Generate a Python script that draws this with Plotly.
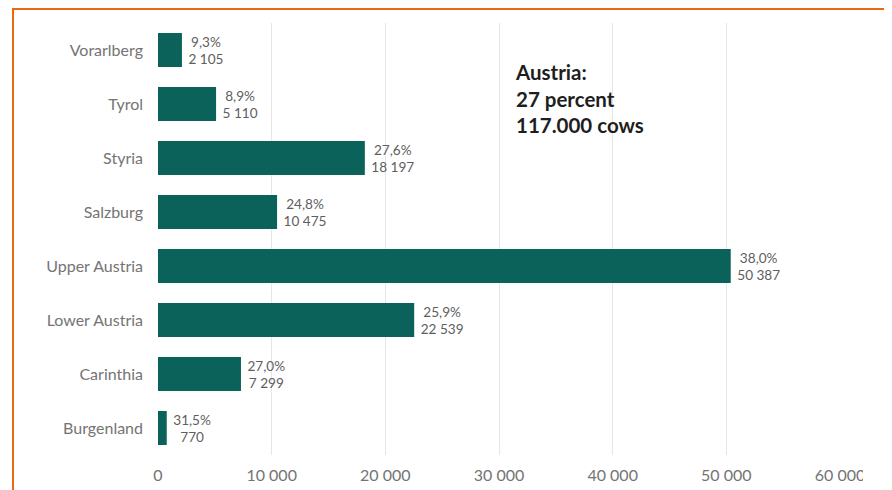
import plotly.graph_objects as go

regions = ["Vorarlberg", "Tyrol", "Styria", "Salzburg", "Upper Austria",
           "Lower Austria", "Carinthia", "Burgenland"]
cows = [2105, 5110, 18197, 10475, 50387, 22539, 7299, 770]
shares = ["9,3%", "8,9%", "27,6%", "24,8%", "38,0%", "25,9%", "27,0%", "31,5%"]
x_ticks = [0, 10000, 20000, 30000, 40000, 50000, 60000]
x_tick_labels = ["0", "10 000", "20 000", "30 000", "40 000", "50 000", "60 000"]
note_lines = ["Austria:", "27 percent", "117.000 cows"]

def fmt(v):
    return f"{v:,}".replace(",", " ")

NB = "\u00a0"
labels = [f"{NB}{s}<br>{NB}{fmt(v)}" for s, v in zip(shares, cows)]

# page has an 8px body margin; figure is placed at (8, 8)
OFF = 8
W, H = 884, 482
L, R, T, B = 150, 52, 15, 35
pw, ph = W - L - R, H - T - B

def px_x(p):  # page pixel -> paper coordinate
    return (p - OFF - L) / pw

def px_y(p):
    return 1 - (p - OFF - T) / ph

FONT = "Lato, 'Open Sans', sans-serif"
GRAY = "#747474"
LABEL_GRAY = "#5e5e5e"
TEAL = "#0a625a"
ORANGE = "#e8690f"

fig = go.Figure(go.Bar(
    x=cows, y=regions, orientation="h",
    marker=dict(color=TEAL, line=dict(width=0)),
    width=0.63,
    text=labels, textposition="outside", cliponaxis=False,
    textfont=dict(family=FONT, size=15, color=LABEL_GRAY),
))

fig.update_layout(
    width=W, height=H,
    margin=dict(l=L, r=R, t=T, b=B, autoexpand=False),
    paper_bgcolor="white", plot_bgcolor="white",
    showlegend=False,
    font=dict(family=FONT, size=15, color=GRAY),
    xaxis=dict(range=[0, 60000], tickvals=x_ticks, ticktext=x_tick_labels,
               showgrid=True, gridcolor="#e6e6e6", gridwidth=1,
               zeroline=False, showline=False, ticks="",
               ticklabelstandoff=9, automargin=False,
               tickfont=dict(family=FONT, size=16, color=GRAY)),
    yaxis=dict(categoryorder="array", categoryarray=regions[::-1],
               showgrid=False, zeroline=False, showline=False, ticks="",
               ticklabelstandoff=14, automargin=False,
               tickfont=dict(family=FONT, size=16, color=GRAY)),
    annotations=[dict(
        x=px_x(513), y=px_y(58), xref="paper", yref="paper",
        xanchor="left", yanchor="top", align="left", showarrow=False,
        text="<br>".join(note_lines),
        font=dict(family=FONT, size=20.5, color="#1e1e1e", weight="bold"),
    )],
    shapes=[
        dict(type="line", xref="paper", yref="paper",
             x0=px_x(12), x1=px_x(OFF + W + 5), y0=px_y(9), y1=px_y(9),
             line=dict(color=ORANGE, width=2), layer="above"),
        dict(type="line", xref="paper", yref="paper",
             x0=px_x(13), x1=px_x(13), y0=px_y(8), y1=px_y(OFF + H + 5),
             line=dict(color=ORANGE, width=2), layer="above"),
        # the reference crops the last tick label at its right edge
        dict(type="rect", xref="paper", yref="paper",
             x0=px_x(863), x1=px_x(OFF + W + 5), y0=px_y(462), y1=px_y(OFF + H + 5),
             fillcolor="white", line=dict(width=0), layer="above"),
    ],
)

fig.write_html("out.html")
